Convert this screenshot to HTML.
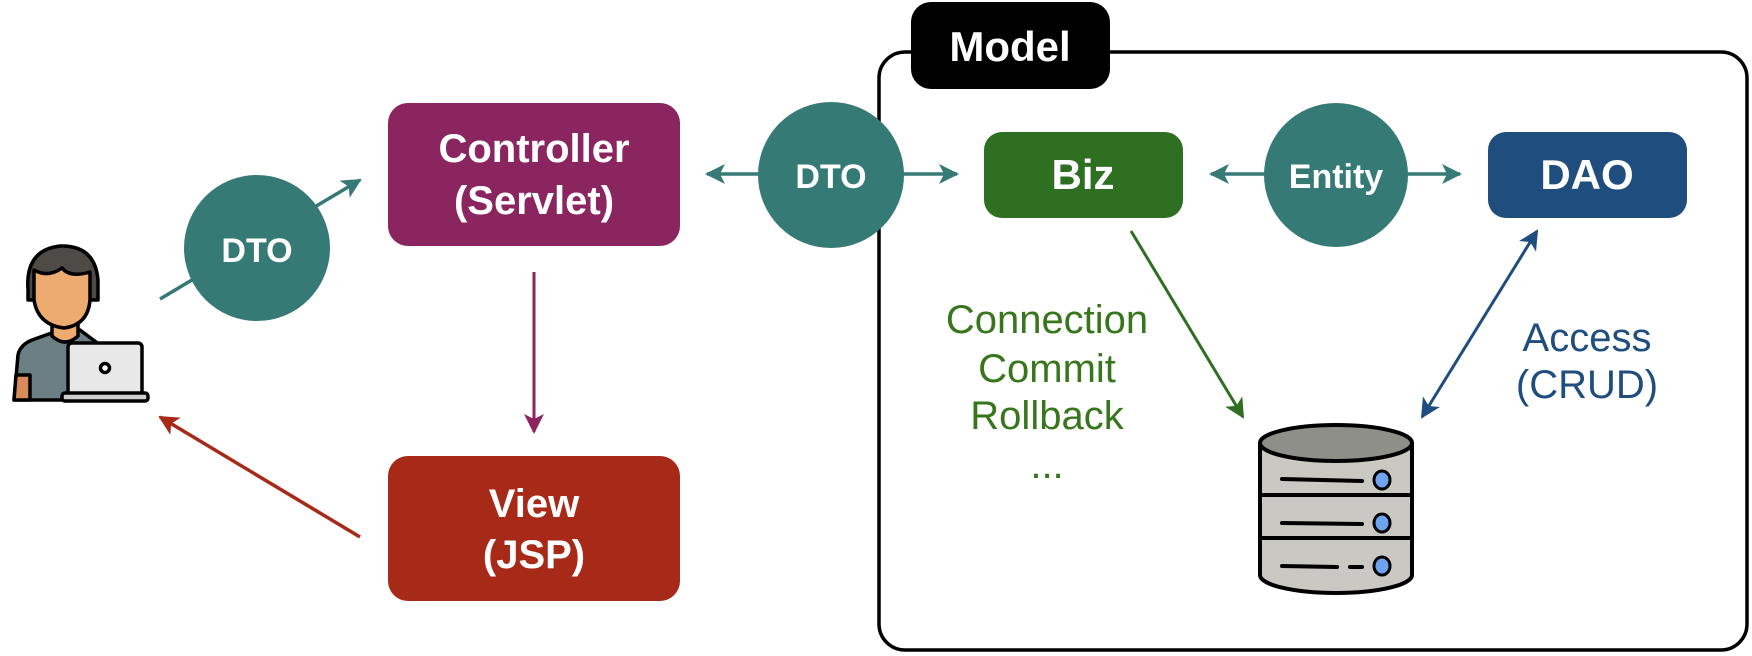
<!DOCTYPE html>
<html><head><meta charset="utf-8"><style>
html,body{margin:0;padding:0;background:#fff;}
svg{display:block;}
text{font-family:"Liberation Sans","NanumGothic",sans-serif;}
.b{font-weight:bold;fill:#fff;}
</style></head><body>
<svg width="1752" height="656" viewBox="0 0 1752 656" xmlns="http://www.w3.org/2000/svg">
<defs>
<marker id="mt" viewBox="0 0 10 10" refX="9" refY="5" markerWidth="6" markerHeight="6" orient="auto-start-reverse" markerUnits="userSpaceOnUse"><path d="M0,0 L10,5 L0,10 L2.5,5 z" fill="#367a76"/></marker>
<marker id="mtb" viewBox="0 0 10 10" refX="9" refY="5" markerWidth="20" markerHeight="20" orient="auto-start-reverse" markerUnits="userSpaceOnUse"><path d="M0,0 L10,5 L0,10 L2.5,5 z" fill="#367a76"/></marker>
<marker id="mp" viewBox="0 0 10 10" refX="9" refY="5" markerWidth="20" markerHeight="20" orient="auto" markerUnits="userSpaceOnUse"><path d="M0,0 L10,5 L0,10 L2.5,5 z" fill="#8b2560"/></marker>
<marker id="mr" viewBox="0 0 10 10" refX="9" refY="5" markerWidth="20" markerHeight="20" orient="auto" markerUnits="userSpaceOnUse"><path d="M0,0 L10,5 L0,10 L2.5,5 z" fill="#a62a17"/></marker>
<marker id="mg" viewBox="0 0 10 10" refX="9" refY="5" markerWidth="20" markerHeight="20" orient="auto" markerUnits="userSpaceOnUse"><path d="M0,0 L10,5 L0,10 L2.5,5 z" fill="#2f6f22"/></marker>
<marker id="mb" viewBox="0 0 10 10" refX="9" refY="5" markerWidth="20" markerHeight="20" orient="auto-start-reverse" markerUnits="userSpaceOnUse"><path d="M0,0 L10,5 L0,10 L2.5,5 z" fill="#1f4e7e"/></marker>
</defs>

<!-- Model container -->
<rect x="879" y="52" width="868" height="598" rx="26" fill="none" stroke="#000" stroke-width="3.5"/>
<rect x="911" y="2" width="199" height="87" rx="20" fill="#000"/>
<text x="1010" y="61" text-anchor="middle" class="b" font-size="42">Model</text>

<!-- arrows -->
<line x1="160" y1="299" x2="360" y2="180" stroke="#367a76" stroke-width="3.5" marker-end="url(#mtb)"/>
<line x1="534" y1="272" x2="534" y2="432" stroke="#8b2560" stroke-width="3" marker-end="url(#mp)"/>
<line x1="360" y1="537" x2="160" y2="417" stroke="#a62a17" stroke-width="3.5" marker-end="url(#mr)"/>
<line x1="707" y1="174" x2="957" y2="174" stroke="#367a76" stroke-width="3.5" marker-start="url(#mtb)" marker-end="url(#mtb)"/>
<line x1="1211" y1="174" x2="1460" y2="174" stroke="#367a76" stroke-width="3.5" marker-start="url(#mtb)" marker-end="url(#mtb)"/>
<line x1="1131" y1="231" x2="1243" y2="417" stroke="#2f6f22" stroke-width="3" marker-end="url(#mg)"/>
<line x1="1537" y1="231" x2="1422" y2="417" stroke="#1f4e7e" stroke-width="3" marker-start="url(#mb)" marker-end="url(#mb)"/>

<!-- circles -->
<circle cx="257" cy="248" r="73" fill="#367a76"/>
<text x="257" y="262" text-anchor="middle" class="b" font-size="34">DTO</text>
<circle cx="831" cy="175" r="73" fill="#367a76"/>
<text x="831" y="188" text-anchor="middle" class="b" font-size="34">DTO</text>
<circle cx="1336" cy="175" r="72" fill="#367a76"/>
<text x="1336" y="188" text-anchor="middle" class="b" font-size="34">Entity</text>

<!-- boxes -->
<rect x="388" y="103" width="292" height="143" rx="20" fill="#8b2560"/>
<text x="534" y="162" text-anchor="middle" class="b" font-size="40">Controller</text>
<text x="534" y="214" text-anchor="middle" class="b" font-size="40">(Servlet)</text>
<rect x="388" y="456" width="292" height="145" rx="20" fill="#a62a17"/>
<text x="534" y="517" text-anchor="middle" class="b" font-size="40">View</text>
<text x="534" y="568" text-anchor="middle" class="b" font-size="40">(JSP)</text>
<rect x="984" y="132" width="199" height="86" rx="18" fill="#2f6f22"/>
<text x="1083" y="189" text-anchor="middle" class="b" font-size="42">Biz</text>
<rect x="1488" y="132" width="199" height="86" rx="18" fill="#1f4e7e"/>
<text x="1587" y="189" text-anchor="middle" class="b" font-size="42">DAO</text>

<!-- labels -->
<g fill="#38761d" font-size="40" text-anchor="middle">
<text x="1047" y="333">Connection</text>
<text x="1047" y="382">Commit</text>
<text x="1047" y="429">Rollback</text>
<text x="1047" y="478">...</text>
</g>
<g fill="#1f4e7e" font-size="40" text-anchor="middle">
<text x="1587" y="351">Access</text>
<text x="1587" y="398">(CRUD)</text>
</g>

<!-- database -->
<g stroke="#000" stroke-width="4" stroke-linejoin="round">
<path d="M1260,443 L1260,575 A76,18 0 0 0 1412,575 L1412,443 Z" fill="#c9c8c2"/>
<line x1="1260" y1="495" x2="1412" y2="495"/>
<line x1="1260" y1="538" x2="1412" y2="538"/>
<ellipse cx="1336" cy="443" rx="76" ry="18" fill="#8f8f8a"/>
<line x1="1282" y1="479" x2="1362" y2="481" stroke-linecap="round"/>
<line x1="1282" y1="523" x2="1362" y2="524" stroke-linecap="round"/>
<line x1="1282" y1="566" x2="1337" y2="567" stroke-linecap="round"/>
<line x1="1350" y1="567" x2="1362" y2="567" stroke-linecap="round"/>
<ellipse cx="1382" cy="480" rx="8" ry="9" fill="#6ea3f0" stroke-width="3"/>
<ellipse cx="1382" cy="523" rx="8" ry="9" fill="#6ea3f0" stroke-width="3"/>
<ellipse cx="1382" cy="566" rx="8" ry="9" fill="#6ea3f0" stroke-width="3"/>
</g>

<!-- person -->
<g stroke="#000" stroke-width="3.5" stroke-linejoin="round">
<path d="M14,400 L18,355 Q20,345 32,340 L60,330 L80,330 L100,345 L100,400 Z" fill="#6b7f84"/>
<path d="M52,322 L52,336 Q65,348 78,336 L78,322 Z" fill="#eeab70"/>
<path d="M28,290 Q25,250 60,246 Q95,245 98,280 L98,300 L28,300 Z" fill="#4e4a45"/>
<path d="M34,270 Q48,278 62,268 Q70,278 90,272 L90,300 Q88,325 64,328 Q38,325 34,300 Z" fill="#eeab70"/>
<path d="M14,400 L16,375 L30,375 L30,400 Z" fill="#d98a5a"/>
<rect x="68" y="343" width="74" height="52" rx="4" fill="#e8e8e8"/>
<rect x="62" y="393" width="86" height="8" rx="3" fill="#d0d0d0"/>
<circle cx="105" cy="368" r="4.5" fill="#fff"/>
</g>
</svg>
</body></html>
